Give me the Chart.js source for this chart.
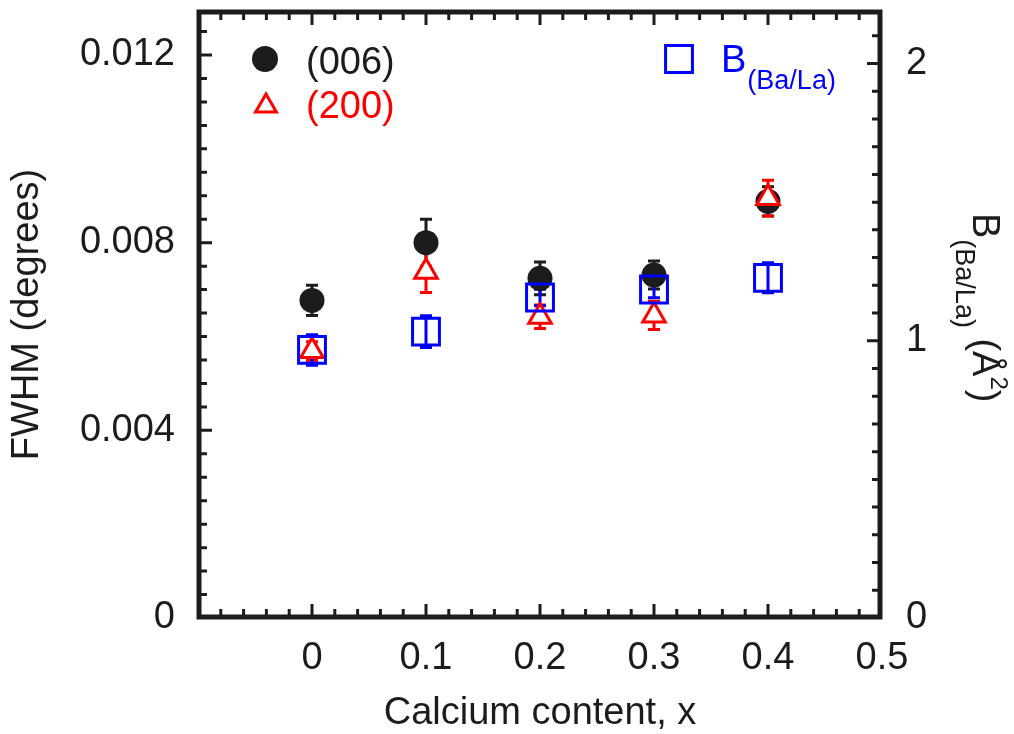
<!DOCTYPE html>
<html>
<head>
<meta charset="utf-8">
<title>FWHM and B(Ba/La) vs calcium content</title>
<script src="https://cdn.jsdelivr.net/npm/chart.js@4.4.0/dist/chart.umd.min.js"></script>
<style>
  html, body { margin: 0; padding: 0; background: #ffffff; }
  #wrap { width: 1014px; height: 734px; position: relative; }
</style>
</head>
<body>
<div id="wrap"><canvas id="c" width="1014" height="734"></canvas></div>
<script>
// Calcium content x of each sample
const calcium = [0, 0.1, 0.2, 0.3, 0.4];

// FWHM of the (006) reflection, degrees, with its uncertainty
const fwhm006 = [0.00677, 0.00800, 0.00724, 0.00731, 0.00888];
const fwhm006Err = [0.00032, 0.00050, 0.00035, 0.00030, 0.00031];

// FWHM of the (200) reflection, degrees, with its uncertainty
const fwhm200 = [0.00569, 0.00738, 0.00642, 0.00645, 0.00895];
const fwhm200Err = [0.00020, 0.00044, 0.00025, 0.00030, 0.00038];

// Isotropic displacement parameter of the Ba/La site, Å²
const bBaLa = [0.967, 1.033, 1.156, 1.185, 1.227];
const bBaLaErr = [0.055, 0.057, 0.030, 0.030, 0.054];

// Tick values and their labels
const xTickValues = [0, 0.1, 0.2, 0.3, 0.4, 0.5];
const xTickLabels = ['0', '0.1', '0.2', '0.3', '0.4', '0.5'];
const yTickValues = [0, 0.004, 0.008, 0.012];
const yTickLabels = ['0', '0.004', '0.008', '0.012'];
const y2TickValues = [0, 1, 2];
const y2TickLabels = ['0', '1', '2'];

const INK = '#1c1c1c';
const RED = '#ff0000';
const BLUE = '#0000ff';
const FONT_FAMILY = '"Liberation Sans", Arial, Helvetica, sans-serif';

const pts = (ys) => calcium.map((x, i) => ({ x: x, y: ys[i] }));

// Error bars are drawn underneath every marker
const errorBarPlugin = {
  id: 'errorBars',
  beforeDatasetsDraw(chart) {
    const ctx = chart.ctx;
    chart.data.datasets.forEach((ds, di) => {
      if (!ds.errors) return;
      const meta = chart.getDatasetMeta(di);
      const scale = chart.scales[ds.yAxisID || 'y'];
      ctx.save();
      ctx.strokeStyle = ds.borderColor;
      ctx.lineWidth = 3;
      ctx.lineCap = 'butt';
      meta.data.forEach((el, i) => {
        const v = ds.data[i].y;
        const e = ds.errors[i];
        const yTop = scale.getPixelForValue(v + e);
        const yBot = scale.getPixelForValue(v - e);
        const x = el.x;
        ctx.beginPath();
        ctx.moveTo(x, yTop); ctx.lineTo(x, yBot);
        ctx.moveTo(x - 6, yTop); ctx.lineTo(x + 6, yTop);
        ctx.moveTo(x - 6, yBot); ctx.lineTo(x + 6, yBot);
        ctx.stroke();
      });
      ctx.restore();
    });
  }
};

// Closed frame with inward major and minor ticks, legend and right-hand title
const framePlugin = {
  id: 'frame',
  afterDraw(chart) {
    const ctx = chart.ctx;
    const a = chart.chartArea;
    const xs = chart.scales.x, ys = chart.scales.y, y2 = chart.scales.y2;
    const L = a.left + 1, R = a.right - 2, T = a.top + 1, B = a.bottom - 1;

    ctx.save();
    ctx.strokeStyle = INK;
    ctx.lineWidth = 3;
    ctx.beginPath();
    // x ticks on bottom and top edges
    for (let k = 1; k < 30; k++) {
      const v = -0.1 + k * 0.02;
      const px = xs.getPixelForValue(v);
      const len = (k % 5 === 0) ? 13 : 8;
      ctx.moveTo(px, B); ctx.lineTo(px, B - len);
      ctx.moveTo(px, T); ctx.lineTo(px, T + len);
    }
    // left axis ticks
    for (let k = 1; k <= 25; k++) {
      const v = k * 0.0005;
      if (v > ys.max) break;
      const py = ys.getPixelForValue(v);
      const len = (k % 8 === 0) ? 13 : 8;
      ctx.moveTo(L, py); ctx.lineTo(L + len, py);
    }
    // right axis ticks
    for (let k = 1; k <= 21; k++) {
      const v = k * 0.1;
      if (v > y2.max) break;
      const py = y2.getPixelForValue(v);
      const len = (k % 10 === 0) ? 13 : 8;
      ctx.moveTo(R, py); ctx.lineTo(R - len, py);
    }
    ctx.stroke();

    ctx.lineWidth = 5;
    ctx.lineJoin = 'miter';
    ctx.strokeRect(L, T, R - L, B - T);
    ctx.restore();

    // legend
    const dp = Chart.helpers.drawPoint;
    ctx.save();
    ctx.fillStyle = INK; ctx.strokeStyle = INK;
    dp(ctx, { pointStyle: 'circle', radius: 13, rotation: 0, borderWidth: 0 }, 265, 59);
    ctx.fillStyle = '#ffffff'; ctx.strokeStyle = RED; ctx.lineWidth = 3;
    dp(ctx, { pointStyle: 'triangle', radius: 12, rotation: 0, borderWidth: 3 }, 266, 106);
    ctx.fillStyle = 'rgba(0,0,0,0)'; ctx.strokeStyle = BLUE;
    dp(ctx, { pointStyle: 'rect', radius: 19, rotation: 0, borderWidth: 3 }, 679, 59);

    ctx.textBaseline = 'alphabetic';
    ctx.textAlign = 'left';
    ctx.font = '38px ' + FONT_FAMILY;
    ctx.fillStyle = INK;
    ctx.fillText('(006)', 306, 74);
    ctx.fillStyle = RED;
    ctx.fillText('(200)', 306, 118);
    ctx.fillStyle = BLUE;
    ctx.fillText('B', 721, 72);
    const wB = ctx.measureText('B').width;
    ctx.font = '27px ' + FONT_FAMILY;
    ctx.fillText('(Ba/La)', 721 + wB + 1, 89);
    ctx.restore();

    // right axis title, read top to bottom
    ctx.save();
    ctx.translate(973, 213);
    ctx.rotate(Math.PI / 2);
    ctx.fillStyle = INK;
    ctx.textBaseline = 'alphabetic';
    ctx.textAlign = 'left';
    let u = 0;
    ctx.font = '38px ' + FONT_FAMILY;
    ctx.fillText('B', u, 0); u += ctx.measureText('B').width + 1;
    ctx.font = '27px ' + FONT_FAMILY;
    ctx.fillText('(Ba/La)', u, 17); u += ctx.measureText('(Ba/La)').width;
    ctx.font = '38px ' + FONT_FAMILY;
    ctx.fillText(' (\u00C5', u, 0); u += ctx.measureText(' (\u00C5').width;
    ctx.font = '24px ' + FONT_FAMILY;
    ctx.fillText('2', u, -18); u += ctx.measureText('2').width;
    ctx.font = '38px ' + FONT_FAMILY;
    ctx.fillText(')', u, 0);
    ctx.restore();
  }
};

const tickFont = { family: FONT_FAMILY, size: 38, lineHeight: 1.2 };
const titleFont = { family: FONT_FAMILY, size: 38, lineHeight: 1 };

// Fixed axis boxes so that the plotting area sits where it should
const fixBox = (size) => (s) => {
  if (s.isHorizontal()) s.height = size; else s.width = size;
  s.paddingTop = 0; s.paddingBottom = 0; s.paddingLeft = 0; s.paddingRight = 0;
};

new Chart(document.getElementById('c'), {
  type: 'scatter',
  data: {
    datasets: [
      {
        label: '(006)', data: pts(fwhm006), errors: fwhm006Err, yAxisID: 'y', order: 3,
        pointStyle: 'circle', pointRadius: 12.5, pointHoverRadius: 12.5,
        backgroundColor: INK, borderColor: INK, borderWidth: 0, showLine: false
      },
      {
        label: '(200)', data: pts(fwhm200), errors: fwhm200Err, yAxisID: 'y', order: 2,
        pointStyle: 'triangle', pointRadius: 13, pointHoverRadius: 13,
        backgroundColor: '#ffffff', borderColor: RED, borderWidth: 3, showLine: false
      },
      {
        label: 'B(Ba/La)', data: pts(bBaLa), errors: bBaLaErr, yAxisID: 'y2', order: 1,
        pointStyle: 'rect', pointRadius: 19, pointHoverRadius: 19,
        backgroundColor: 'rgba(0,0,0,0)', borderColor: BLUE, borderWidth: 3, showLine: false
      }
    ]
  },
  options: {
    responsive: false,
    devicePixelRatio: 1,
    animation: false,
    events: [],
    layout: { autoPadding: false, padding: { top: 11, left: 0, right: 0, bottom: 0 } },
    plugins: { legend: { display: false }, tooltip: { enabled: false } },
    scales: {
      x: {
        type: 'linear', position: 'bottom', min: -0.1, max: 0.5,
        grid: { display: false }, border: { display: false },
        afterBuildTicks: (s) => { s.ticks = xTickValues.map(v => ({ value: v })); },
        afterFit: fixBox(116),
        ticks: {
          autoSkip: false, maxRotation: 0, minRotation: 0, padding: 10,
          color: INK, font: tickFont,
          callback: (v) => xTickLabels[xTickValues.indexOf(v)]
        },
        title: { display: true, text: 'Calcium content, x', color: INK, font: titleFont, padding: { top: 0, bottom: 1 } }
      },
      y: {
        type: 'linear', position: 'left', min: 0, max: 0.012938,
        grid: { display: false }, border: { display: false },
        afterBuildTicks: (s) => { s.ticks = yTickValues.map(v => ({ value: v })); },
        afterFit: fixBox(198),
        ticks: {
          autoSkip: false, padding: 15, color: INK, font: tickFont,
          callback: (v) => yTickLabels[yTickValues.indexOf(v)]
        },
        title: { display: true, text: 'FWHM (degrees)', color: INK, font: titleFont, padding: { top: 9, bottom: 0 } }
      },
      y2: {
        type: 'linear', position: 'right', min: 0, max: 2.1894,
        grid: { display: false }, border: { display: false },
        afterBuildTicks: (s) => { s.ticks = y2TickValues.map(v => ({ value: v })); },
        afterFit: fixBox(132),
        ticks: {
          autoSkip: false, padding: 16, color: INK, font: tickFont,
          callback: (v) => y2TickLabels[y2TickValues.indexOf(v)]
        }
      }
    }
  },
  plugins: [errorBarPlugin, framePlugin]
});
</script>
</body>
</html>
